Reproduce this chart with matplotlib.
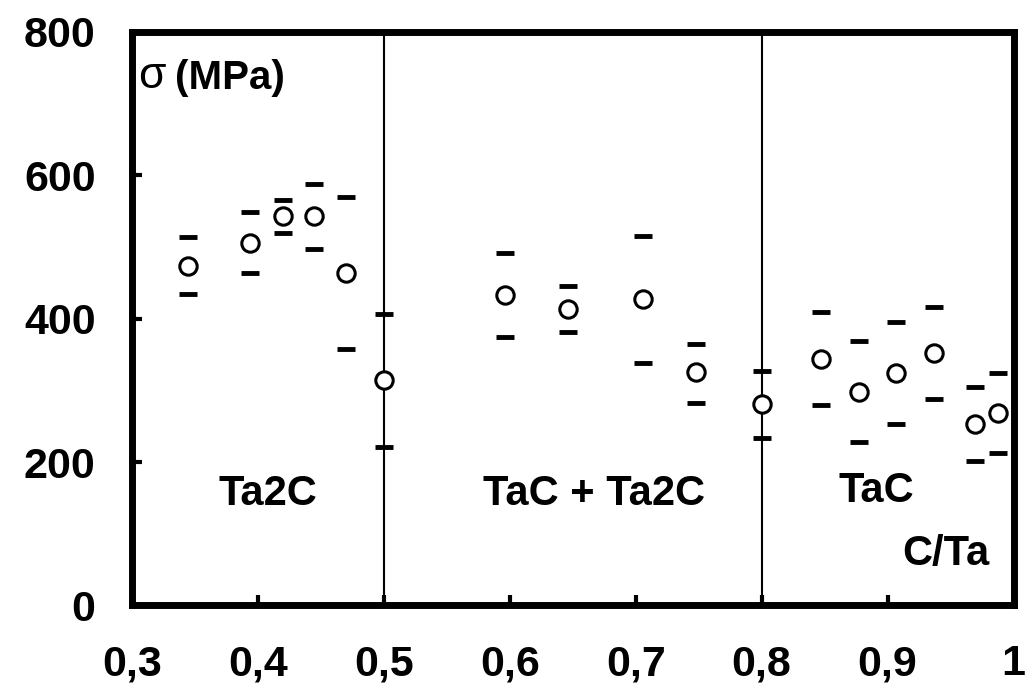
import numpy as np
import matplotlib.pyplot as plt
import matplotlib as mpl
mpl.rcParams['font.family'] = ['Liberation Sans', 'DejaVu Sans']

# C/Ta ratio and rupture stress (MPa): mean, upper and lower bounds
ratio = [0.345, 0.394, 0.42, 0.445, 0.47, 0.5, 0.596, 0.646, 0.706, 0.748,
         0.8, 0.847, 0.877, 0.907, 0.937, 0.969, 0.988]
sigma = [474, 506, 543, 543, 464, 315, 433, 414, 428, 325,
         281, 344, 298, 324, 352, 253, 268]
sigma_hi = [514, 549, 566, 588, 570, 407, 492, 445, 516, 365,
            327, 409, 369, 395, 416, 305, 324]
sigma_lo = [434, 464, 520, 497, 358, 221, 374, 382, 338, 282,
            234, 279, 228, 253, 288, 201, 213]
phase_limits = [0.5, 0.8]
xticks = [0.3, 0.4, 0.5, 0.6, 0.7, 0.8, 0.9, 1.0]
xticklabels = ['0,3', '0,4', '0,5', '0,6', '0,7', '0,8', '0,9', '1']
yticks = [0, 200, 400, 600, 800]

fig = plt.figure(figsize=(10.29, 6.95), dpi=100)
ax = fig.add_axes([0.128, 0.129, 0.857, 0.825])

for xv in phase_limits:
    ax.axvline(xv, color='black', lw=1.5)

ax.plot(ratio, sigma, 'o', ms=12.5, mfc='white', mec='black', mew=2.2, zorder=3)
ax.plot(ratio, sigma_hi, '_', ms=13, mec='black', mew=3.5, zorder=3)
ax.plot(ratio, sigma_lo, '_', ms=13, mec='black', mew=3.5, zorder=3)

ax.set_xlim(0.3, 1.0)
ax.set_ylim(0, 800)
ax.set_xticks(xticks)
ax.set_xticklabels(xticklabels)
ax.set_yticks(yticks)
for s in ax.spines.values():
    s.set_linewidth(5)
ax.tick_params(direction='in', length=7, width=3, labelsize=31)
ax.tick_params(axis='x', pad=28)
ax.tick_params(axis='y', pad=26)
for lab in ax.get_xticklabels() + ax.get_yticklabels():
    lab.set_fontweight('bold')

ax.text(0.305, 738, 'σ', fontsize=32, va='center', ha='left')
ax.text(0.334, 736, '(MPa)', fontsize=29, fontweight='bold', va='center', ha='left')
ax.text(0.408, 155, 'Ta2C', fontsize=30, fontweight='bold', ha='center', va='center')
ax.text(0.667, 155, 'TaC + Ta2C', fontsize=30, fontweight='bold', ha='center', va='center')
ax.text(0.891, 160, 'TaC', fontsize=30, fontweight='bold', ha='center', va='center')
ax.text(0.946, 72, 'C/Ta', fontsize=30, fontweight='bold', ha='center', va='center')

plt.savefig('out.png', dpi=100)
